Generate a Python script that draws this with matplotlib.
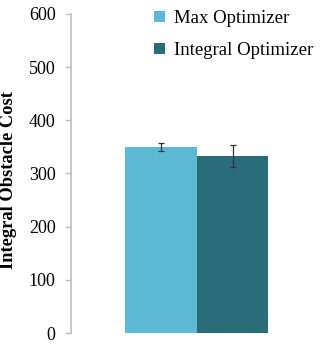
import matplotlib
matplotlib.use("Agg")
import matplotlib.pyplot as plt

# values
series = ["Max Optimizer", "Integral Optimizer"]
means = [350, 333]
errs = [7, 20]
colors = ["#5BB9D3", "#2A6B7A"]
yticks = [0, 100, 200, 300, 400, 500, 600]

plt.rcParams["font.family"] = ["Liberation Serif", "DejaVu Serif"]

fig = plt.figure(figsize=(3.32, 3.47), dpi=100)
ax = fig.add_axes([71 / 332, (347 - 333) / 347, (320 - 71) / 332, (333 - 14) / 347])

for i, (lab, m, e, c) in enumerate(zip(series, means, errs, colors)):
    ax.bar(i, m, width=1.0, color=c, label=lab, zorder=2)
    ax.errorbar(i, m, yerr=e, fmt="none", ecolor="#333333", elinewidth=0.9,
                capsize=2.5, capthick=0.9, zorder=3)

ax.set_xlim(-1.253, 2.22)
ax.set_ylim(0, 600)
ax.set_yticks(yticks)
ax.set_xticks([])
for s in ["top", "right", "bottom"]:
    ax.spines[s].set_visible(False)
ax.spines["left"].set_color("#BFBFBF")
ax.spines["left"].set_linewidth(1.2)
ax.tick_params(axis="y", colors="#BFBFBF", labelcolor="black", length=4,
               width=1.0, labelsize=13, pad=7)
ax.set_ylabel("Integral Obstacle Cost", fontsize=13.3, fontweight="bold")
ax.yaxis.set_label_coords(-0.215, 0.48)

ax.legend(loc="upper left", bbox_to_anchor=(0.265, 1.065), frameon=False,
          fontsize=13.5, handlelength=0.6, handleheight=0.6, handletextpad=0.45,
          labelspacing=0.8)

fig.savefig("out.png", dpi=100)
